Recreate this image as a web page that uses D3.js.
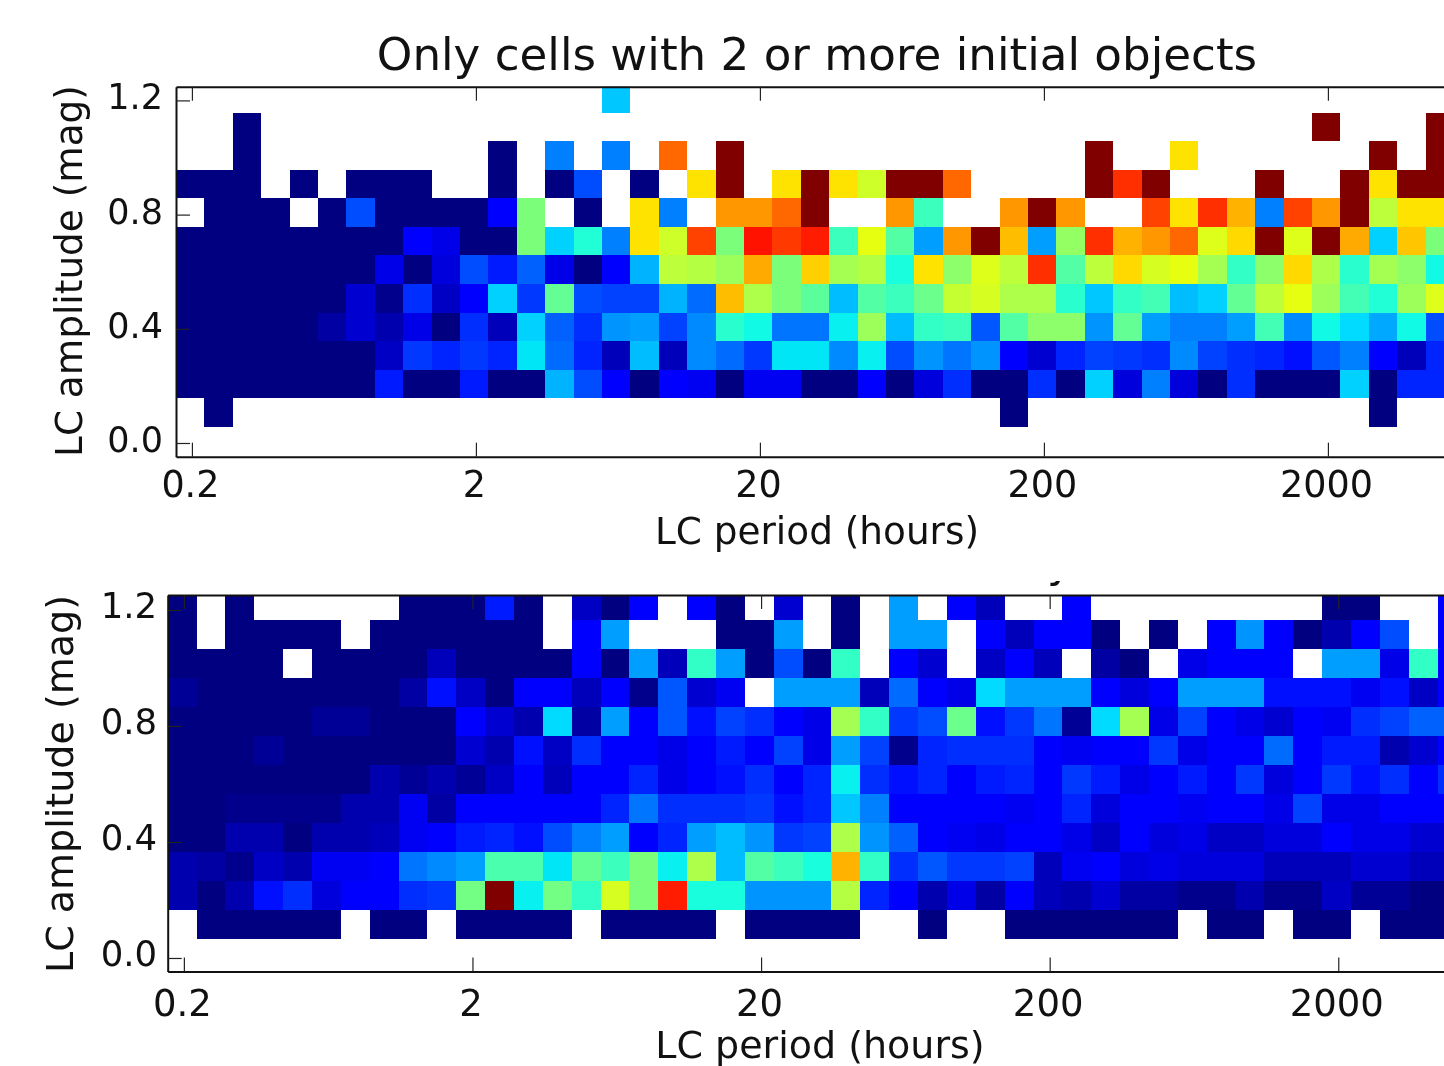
<!DOCTYPE html>
<html>
<head>
<meta charset="utf-8">
<title>LC amplitude vs period</title>
<script src="https://cdn.jsdelivr.net/npm/d3@7"></script>
<style>
	html, body { margin: 0; padding: 0; background: #fff; overflow: hidden; }
	svg { display: block; filter: blur(0.5px); }
	text { font-family: "DejaVu Sans", sans-serif; fill: #111; }
	.cell { shape-rendering: crispEdges; }
	.tick line { stroke: #222; stroke-width: 1.2; }
	.domain { stroke: #111; stroke-width: 2; }
</style>
</head>
<body>
<div id="chart"></div>
<script>
const n = null;

const periodTicks = [0.2, 2, 20, 200, 2000];
const ampTicks = [0, 0.4, 0.8, 1.2];
const ampBins = [1.2, 1.1, 1.0, 0.9, 0.8, 0.7, 0.6, 0.5, 0.4, 0.3, 0.2, 0.1];

// top panel, colour position 0-100 (jet), one array per amplitude bin, 45 period bins
const top120 = [n,n,n,n,n, n,n,n,n,n, n,n,n,n,n, 32,n,n,n,n, n,n,n,n,n, n,n,n,n,n, n,n,n,n,n, n,n,n,n,n, n,n,n,n,n];
const top110 = [n,n,0,n,n, n,n,n,n,n, n,n,n,n,n, n,n,n,n,n, n,n,n,n,n, n,n,n,n,n, n,n,n,n,n, n,n,n,n,n, 100,n,n,n,100];
const top100 = [n,n,0,n,n, n,n,n,n,n, n,0,n,25,n, 25,n,80,n,100, n,n,n,n,n, n,n,n,n,n, n,n,100,n,n, 67,n,n,n,n, n,n,100,n,100];
const top090 = [0,0,0,n,0, n,0,0,0,n, n,0,n,0,20, n,0,n,67,100, n,67,100,67,60, 100,100,80,n,n, n,n,100,86,100, n,n,n,100,n, n,100,67,100,100];
const top080 = [n,0,0,0,n, 0,20,0,0,0, 0,11,50,n,0, n,67,25,n,75, 75,80,100,n,n, 75,42,n,n,75, 100,75,n,n,84, 67,86,72,25,84, 75,100,58,67,67];
const top070 = [0,0,0,0,0, 0,0,0,11,9, 0,0,50,33,39, 25,67,60,84,50, 89,85,88,42,63, 45,28,75,100,71, 28,53,86,72,75, 80,62,68,100,62, 100,73,33,70,50];
const top060 = [0,0,0,0,0, 0,0,9,0,8, 20,15,22,9,0, 11,30,58,57,54, 73,50,69,55,57, 38,67,52,62,58, 86,45,58,68,61, 63,55,41,52,68, 56,40,55,52,37];
const top050 = [0,0,0,0,0, 0,7,1,17,6, 11,33,18,47,20, 19,19,30,23,71, 56,50,46,31,45, 42,48,59,61,56, 56,40,32,41,43, 31,33,47,58,63, 54,43,39,54,62];
const top040 = [0,0,0,0,0, 3,7,4,9,0, 17,5,33,22,17, 27,28,19,26,40, 37,24,24,36,54, 31,41,42,21,45, 52,52,27,47,28, 25,25,28,43,26, 37,34,29,37,20];
const top030 = [0,0,0,0,0, 0,0,6,18,16, 18,16,35,23,16, 5,31,5,26,23, 18,35,35,26,36, 20,27,24,27,11, 7,16,19,18,17, 26,19,17,16,14, 21,25,11,5,16];
const top020 = [0,0,0,0,0, 0,0,15,0,0, 15,0,0,30,20, 11,0,11,10,0, 10,10,0,0,11, 0,8,17,0,0, 17,0,33,8,25, 8,0,17,0,0, 0,33,0,16,16];
const top010 = [n,0,n,n,n, n,n,n,n,n, n,n,n,n,n, n,n,n,n,n, n,n,n,n,n, n,n,n,n,0, n,n,n,n,n, n,n,n,n,n, n,n,0,n,n];

// bottom panel
const bot120 = [0,n,0,n,n, n,n,n,0,0, 0,15,0,n,6, 0,11,n,11,0, n,7,n,0,n, 28,n,11,5,n, n,11,n,n,n, n,n,n,n,n, 0,0,n,n,11];
const bot110 = [0,n,0,0,0, 0,n,0,0,0, 0,0,0,n,11, 28,n,n,n,0, 0,28,n,0,n, 28,28,n,11,5, 11,11,0,n,0, n,11,27,11,0, 4,11,20,n,11];
const bot100 = [0,0,0,0,n, 0,0,0,0,5, 0,0,0,0,11, 0,28,5,41,28, 0,20,0,41,n, 11,7,n,6,11, 5,n,3,0,n, 9,11,11,11,n, 28,28,9,41,11];
const bot090 = [2,0,0,0,0, 0,0,0,3,14, 6,0,11,11,5, 11,1,21,7,10, n,28,28,28,5, 23,11,9,34,28, 28,28,11,8,11, 28,28,28,14,14, 14,10,14,6,11];
const bot080 = [0,0,0,0,0, 2,2,0,0,0, 11,7,4,34,3, 28,11,21,14,19, 17,11,9,55,41, 18,20,48,14,18, 24,2,34,55,9, 19,11,9,7,11, 10,17,19,22,22];
const bot070 = [0,0,0,2,0, 0,0,0,0,0, 7,4,14,6,17, 11,11,9,11,15, 11,19,9,28,19, 1,16,17,17,17, 11,10,11,11,18, 9,11,11,23,11, 15,15,4,7,11];
const bot060 = [0,0,0,0,0, 0,0,4,2,4, 2,6,11,5,11, 11,16,9,11,14, 17,11,16,36,17, 14,16,11,15,16, 11,18,15,9,11, 15,11,18,8,11, 18,14,17,11,17];
const bot050 = [0,0,1,1,1, 1,4,4,10,3, 11,11,11,11,11, 16,24,17,17,17, 18,14,16,32,25, 11,11,11,11,10, 11,16,8,11,11, 10,11,11,9,19, 9,9,11,11,11];
const bot040 = [0,0,4,4,0, 4,4,5,10,11, 15,16,14,20,25, 28,11,16,28,31, 27,18,19,56,27, 22,11,10,9,11, 11,9,6,11,8, 9,6,6,8,8, 11,9,9,7,7];
const bot030 = [4,3,1,6,4, 10,10,11,24,26, 28,44,44,35,47, 42,50,36,56,31, 45,42,38,72,41, 17,21,18,18,19, 5,10,11,8,9, 8,8,8,5,5, 5,7,7,5,5];
const bot020 = [4,0,4,14,17, 8,11,11,17,18, 49,100,36,49,41, 61,50,88,38,38, 27,27,27,57,16, 11,4,9,3,11, 5,4,7,3,3, 1,1,4,1,1, 6,2,2,0,0];
const bot010 = [n,0,0,0,0, 0,n,0,0,n, 0,0,0,0,n, 0,0,0,0,n, 0,0,0,0,n, n,0,n,n,0, 0,0,0,0,0, n,0,0,n,0, 0,n,0,0,0];

const topRows = [top120, top110, top100, top090, top080, top070, top060, top050, top040, top030, top020, top010];
const botRows = [bot120, bot110, bot100, bot090, bot080, bot070, bot060, bot050, bot040, bot030, bot020, bot010];

const titleText = 'Only cells with 2 or more initial objects';
const xLabel = 'LC period (hours)';
const yLabel = 'LC amplitude (mag)';

const logStart = -0.755;	// left edge of first period bin
const logStep = 0.1;

// matplotlib jet, channel by channel
const jetR = d3.scaleLinear().domain([0, 35, 66, 89, 100]).range([0, 0, 255, 255, 128]);
const jetG = d3.scaleLinear().domain([0, 12.5, 37.5, 64, 91, 100]).range([0, 0, 255, 255, 0, 0]);
const jetB = d3.scaleLinear().domain([0, 11, 34, 65, 100]).range([128, 255, 255, 0, 0]);
const jet = v => d3.rgb(jetR(v), jetG(v), jetB(v)).formatRgb();

const svg = d3.select('#chart').append('svg')
	.attr('width', 1444)
	.attr('height', 1066);

/**
 * @param {Object} p panel geometry
 * @param {Array[]} rows
 */
function drawPanel(p, rows) {
	const x = d3.scaleLog()
		.domain([10 ** logStart, 10 ** (logStart + 4.6)])
		.range([p.left, p.left + 4.6 * p.decade]);
	const y = d3.scaleLinear()
		.domain(p.ampDomain)
		.range([p.bottom, p.top]);

	svg.append('clipPath')
		.attr('id', p.id)
		.append('rect')
		.attr('x', p.left)
		.attr('y', p.top)
		.attr('width', 1444 - p.left)
		.attr('height', p.bottom - p.top);

	const cells = rows.flatMap((row, r) => row.map((v, c) => ({amp: ampBins[r], col: c, v})))
		.filter(d => d.v !== null);

	svg.append('g')
		.attr('clip-path', `url(#${p.id})`)
		.selectAll('rect')
		.data(cells)
		.join('rect')
		.attr('class', 'cell')
		.attr('x', d => x(10 ** (logStart + d.col * logStep)))
		.attr('width', d => x(10 ** (logStart + (d.col + 1) * logStep)) - x(10 ** (logStart + d.col * logStep)))
		.attr('y', d => y(d.amp + 0.05 + p.binShift))
		.attr('height', d => y(d.amp - 0.05 + p.binShift) - y(d.amp + 0.05 + p.binShift))
		.attr('fill', d => jet(d.v));

	const tickLen = 14;

	const bottomAxis = svg.append('g')
		.attr('transform', `translate(0,${p.bottom})`)
		.call(d3.axisBottom(x)
			.tickValues(periodTicks)
			.tickFormat(d => d)
			.tickSizeInner(-tickLen)
			.tickSizeOuter(0)
			.tickPadding(p.xPad));
	bottomAxis.selectAll('text')
		.attr('font-size', p.tickFont)
		.attr('dx', -2);

	svg.append('g')
		.attr('transform', `translate(0,${p.top})`)
		.call(d3.axisTop(x)
			.tickValues(periodTicks)
			.tickFormat('')
			.tickSizeInner(-tickLen)
			.tickSizeOuter(0));

	const leftAxis = svg.append('g')
		.attr('transform', `translate(${p.left},0)`)
		.call(d3.axisLeft(y)
			.tickValues(ampTicks)
			.tickFormat(d3.format('.1f'))
			.tickSizeInner(-tickLen)
			.tickSizeOuter(0)
			.tickPadding(p.yPad));
	leftAxis.selectAll('text')
		.attr('font-size', p.yTickFont)
		.attr('dy', p.yDy);

	svg.selectAll('.tick text').style('fill', '#111');

	svg.append('text')
		.attr('x', p.xLabelX)
		.attr('y', p.xLabelY)
		.attr('text-anchor', 'middle')
		.attr('font-size', p.labelFont)
		.text(xLabel);

	svg.append('text')
		.attr('transform', `translate(${p.yLabelX},${p.yLabelY}) rotate(-90)`)
		.attr('text-anchor', 'middle')
		.attr('font-size', p.labelFont)
		.text(yLabel);
}

drawPanel({
	id: 'clip-top', left: 176, top: 86.7, bottom: 456.7, decade: 284,
	ampDomain: [-0.048, 1.248], binShift: 0.007,
	tickFont: 36.5, yTickFont: 35, labelFont: 37.4, xPad: 14, yPad: 13, yDy: '0.24em',
	xLabelX: 817, xLabelY: 544, yLabelX: 81.7, yLabelY: 271
}, topRows);

drawPanel({
	id: 'clip-bot', left: 167.7, top: 595, bottom: 971.5, decade: 288.6,
	ampDomain: [-0.0466, 1.2517], binShift: 0.0155,
	tickFont: 37, yTickFont: 35.5, labelFont: 38, xPad: 18, yPad: 10.5, yDy: '0.22em',
	xLabelX: 820, xLabelY: 1058, yLabelX: 72.5, yLabelY: 784
}, botRows);

svg.append('text')
	.attr('x', 817)
	.attr('y', 70)
	.attr('text-anchor', 'middle')
	.attr('font-size', 45.2)
	.text(titleText);

// only a scrap of the lower panel's title shows above its frame
svg.append('clipPath')
	.attr('id', 'clip-scrap')
	.append('rect')
	.attr('x', 1040)
	.attr('y', 581)
	.attr('width', 30)
	.attr('height', 10);

svg.append('text')
	.attr('clip-path', 'url(#clip-scrap)')
	.attr('x', 1047)
	.attr('y', 577)
	.attr('font-size', 43)
	.text('y');
</script>
</body>
</html>
